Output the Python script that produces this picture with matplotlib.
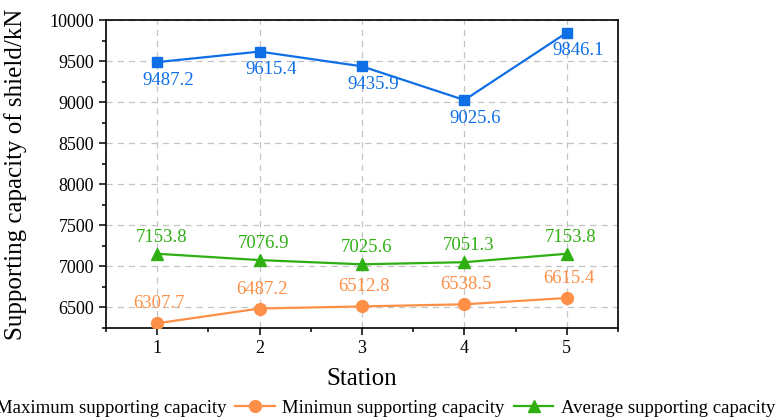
import matplotlib
matplotlib.use("Agg")
import matplotlib.pyplot as plt
from matplotlib.ticker import MultipleLocator

plt.rcParams['font.family'] = ['Liberation Serif', 'DejaVu Serif']

stations = [1, 2, 3, 4, 5]
max_capacity = [9487.2, 9615.4, 9435.9, 9025.6, 9846.1]
min_capacity = [6307.7, 6487.2, 6512.8, 6538.5, 6615.4]
avg_capacity = [7153.8, 7076.9, 7025.6, 7051.3, 7153.8]
series_labels = ["Maximum supporting capacity",
                 "Minimun supporting capacity",
                 "Average supporting capacity"]

blue = "#0f6fe6"
orange = "#fd8f47"
green = "#2eb012"

fig = plt.figure(figsize=(7.77, 4.19), dpi=100)
ax = fig.add_axes([106/777, 91/419, 512/777, 308/419])

ax.plot(stations, max_capacity, color=blue, lw=1.6, marker="s", ms=7.5,
        label=series_labels[0], zorder=3)
ax.plot(stations, min_capacity, color=orange, lw=1.6, marker="o", ms=8.5,
        label=series_labels[1], zorder=3)
ax.plot(stations, avg_capacity, color=green, lw=1.6, marker="^", ms=9,
        label=series_labels[2], zorder=3)

for x, y in zip(stations, max_capacity):
    ax.annotate(f"{y:.1f}", (x, y), xytext=(8, -13), textcoords="offset points",
                ha="center", va="center", color=blue, fontsize=13.5)
for x, y in zip(stations, min_capacity):
    ax.annotate(f"{y:.1f}", (x, y), xytext=(1.5, 14), textcoords="offset points",
                ha="center", va="center", color=orange, fontsize=13.5)
for x, y in zip(stations, avg_capacity):
    ax.annotate(f"{y:.1f}", (x, y), xytext=(3, 12), textcoords="offset points",
                ha="center", va="center", color=green, fontsize=13.5)

ax.set_xlim(0.5, 5.5)
ax.set_ylim(6250, 10000)
ax.xaxis.set_major_locator(MultipleLocator(1))
ax.xaxis.set_minor_locator(MultipleLocator(0.5))
ax.yaxis.set_major_locator(MultipleLocator(500))
ax.yaxis.set_minor_locator(MultipleLocator(250))

ax.tick_params(which="both", direction="out", top=False, right=False,
               labelsize=13, width=1.1)
ax.tick_params(which="major", length=5)
ax.tick_params(which="minor", length=3)
for s in ax.spines.values():
    s.set_linewidth(1.2)

ax.grid(True, which="major", color="#c4c4c4", ls=(0, (5, 4)), lw=0.9, zorder=0)
ax.set_axisbelow(True)

ax.set_xlabel("Station", fontsize=18, labelpad=8)
ax.set_ylabel("Supporting capacity of shield/kN", fontsize=18, labelpad=16)

ax.legend(loc="center", bbox_to_anchor=(0.5, -0.26), ncol=3, frameon=False,
          fontsize=13.5, handlelength=2.1, handletextpad=0.4,
          columnspacing=0.5)

fig.savefig("out.png", dpi=100)
